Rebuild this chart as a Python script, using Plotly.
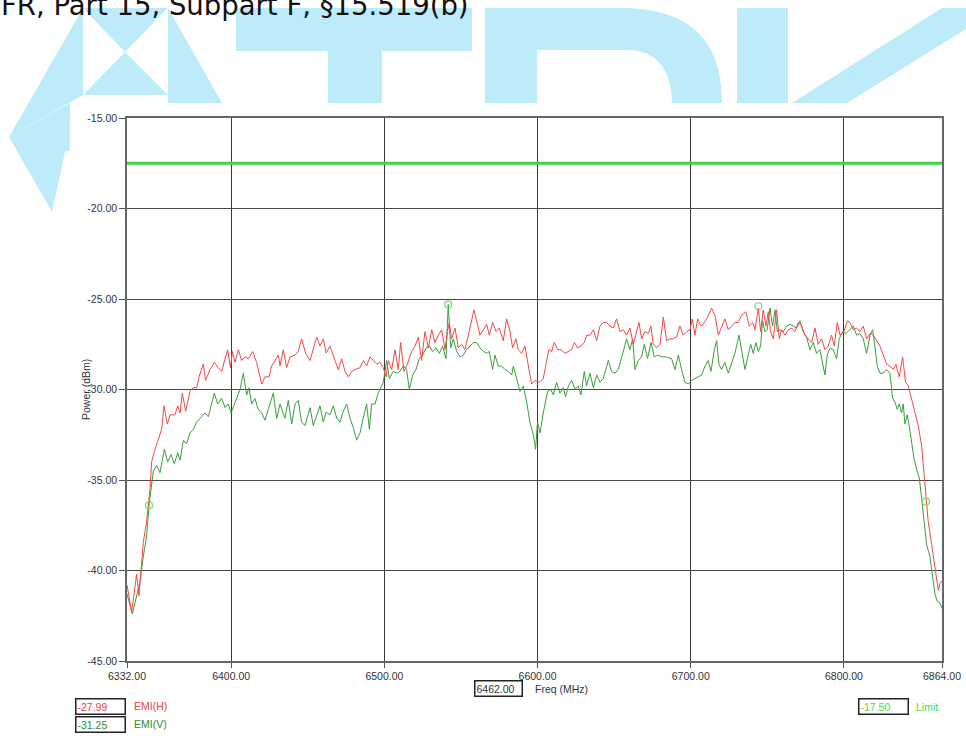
import plotly.graph_objects as go

# ---------------- data ----------------
freq_h = [6332.0, 6335.0, 6338.3, 6339.8, 6342.7, 6344.8, 6347.0, 6348.1, 6350.3, 6352.5, 6354.6, 6356.2, 6358.3, 6360.1,
          6363.3, 6365.1, 6366.6, 6368.1, 6370.3, 6373.1, 6375.3, 6377.5, 6379.0, 6381.8, 6383.3, 6386.2, 6389.0, 6391.6,
          6393.8, 6396.0, 6397.7, 6399.5, 6400.8, 6402.5, 6404.7, 6406.8, 6409.0, 6411.2, 6414.0, 6416.6, 6419.9, 6422.1,
          6424.7, 6426.4, 6428.6, 6430.8, 6431.9, 6434.0, 6436.2, 6438.4, 6441.7, 6443.8, 6446.0, 6448.6, 6451.5, 6453.6,
          6455.8, 6458.0, 6460.2, 6462.0, 6464.5, 6467.8, 6469.9, 6472.1, 6474.3, 6476.5, 6478.6, 6480.8, 6484.1, 6486.3,
          6488.4, 6490.6, 6492.8, 6495.0, 6497.1, 6499.3, 6501.1, 6502.6, 6504.8, 6506.9, 6509.1, 6510.6, 6512.8, 6515.0,
          6517.8, 6520.0, 6522.2, 6524.3, 6526.5, 6528.7, 6530.9, 6533.0, 6535.2, 6537.4, 6539.6, 6541.1, 6542.4, 6543.9,
          6546.1, 6548.3, 6550.4, 6552.6, 6554.8, 6557.0, 6558.5, 6560.2, 6562.4, 6564.6, 6566.8, 6568.5, 6570.7, 6572.9,
          6575.0, 6577.6, 6579.8, 6582.0, 6583.7, 6585.9, 6587.4, 6589.6, 6591.8, 6594.0, 6596.1, 6598.3, 6601.1, 6603.7,
          6605.9, 6607.4, 6609.2, 6610.9, 6613.1, 6615.3, 6617.9, 6620.1, 6622.2, 6624.0, 6626.1, 6628.3, 6630.5, 6632.0,
          6634.2, 6636.4, 6638.6, 6640.7, 6642.9, 6645.1, 6647.3, 6649.4, 6651.6, 6653.8, 6656.0, 6658.1, 6660.3, 6662.5,
          6664.7, 6666.2, 6667.9, 6670.1, 6672.3, 6674.0, 6675.5, 6677.7, 6679.9, 6682.1, 6684.2, 6686.4, 6688.6, 6690.8,
          6692.9, 6695.1, 6697.3, 6699.5, 6701.0, 6702.7, 6704.5, 6706.7, 6708.8, 6711.0, 6713.6, 6715.8, 6718.0, 6720.1,
          6722.3, 6724.5, 6726.7, 6728.8, 6731.0, 6733.2, 6736.0, 6738.2, 6740.4, 6741.9, 6744.1, 6745.6, 6747.3, 6749.1,
          6750.6, 6752.1, 6753.9, 6756.0, 6757.8, 6759.3, 6761.5, 6763.6, 6765.8, 6768.0, 6770.2, 6772.4, 6774.5, 6776.7,
          6778.9, 6781.1, 6783.2, 6785.4, 6787.6, 6789.8, 6791.9, 6793.7, 6795.6, 6797.4, 6800.0, 6802.2, 6803.9, 6806.1,
          6808.3, 6810.4, 6812.6, 6814.8, 6817.0, 6819.1, 6821.3, 6823.5, 6825.7, 6827.8, 6830.0, 6832.2, 6833.9, 6836.1,
          6838.3, 6840.2, 6842.0, 6844.2, 6846.3, 6848.5, 6850.7, 6852.2, 6853.5, 6855.0, 6856.6, 6858.3, 6860.0, 6861.6,
          6862.7, 6864.0]
emi_h = [-40.8, -42.3, -40.2, -41.4, -38.4, -37.3, -35.5, -34.0, -33.3, -32.7, -32.2, -30.9, -31.9, -31.4,
         -31.4, -30.9, -31.3, -30.2, -31.2, -30.1, -29.9, -29.9, -29.3, -28.6, -29.5, -28.9, -28.5, -28.8,
         -29.0, -28.3, -27.8, -28.8, -27.9, -28.5, -27.8, -28.4, -28.2, -28.3, -27.9, -28.5, -29.7, -29.3,
         -29.3, -28.7, -28.4, -28.1, -28.7, -27.8, -28.8, -28.2, -28.1, -27.9, -27.2, -28.0, -28.4, -27.8,
         -27.1, -27.6, -27.2, -27.99, -27.6, -28.4, -28.9, -28.3, -29.0, -29.3, -29.0, -28.9, -28.8, -28.4,
         -28.7, -28.2, -28.4, -28.6, -28.5, -28.8, -29.3, -28.4, -28.9, -27.8, -28.9, -27.4, -29.0, -28.6,
         -27.9, -27.6, -27.1, -28.4, -26.8, -27.7, -26.7, -27.4, -27.0, -26.7, -27.8, -26.8, -26.3, -27.2,
         -26.6, -27.7, -27.5, -27.8, -27.0, -26.2, -25.6, -26.2, -27.0, -26.7, -26.4, -27.0, -26.3, -26.8,
         -26.6, -27.3, -26.1, -26.8, -27.7, -27.2, -27.8, -28.0, -27.6, -28.7, -29.7, -29.5, -29.6, -29.4,
         -28.4, -27.8, -27.9, -27.4, -27.8, -27.8, -28.0, -27.9, -27.8, -27.4, -27.7, -27.6, -27.4, -27.0,
         -27.0, -26.7, -27.3, -26.5, -26.3, -26.3, -26.5, -26.6, -26.1, -26.8, -26.7, -27.0, -26.6, -27.5,
         -26.7, -26.3, -27.2, -26.8, -26.9, -26.5, -27.5, -27.7, -27.5, -26.0, -27.3, -27.2, -27.2, -27.1,
         -26.5, -27.0, -26.8, -26.7, -26.1, -27.0, -26.1, -26.5, -26.3, -26.0, -25.5, -25.9, -27.0, -26.5,
         -26.1, -26.7, -26.5, -26.3, -26.3, -25.9, -25.7, -26.5, -26.3, -26.7, -25.5, -26.8, -25.6, -26.5,
         -25.7, -26.8, -27.2, -25.6, -27.2, -26.7, -27.0, -26.7, -26.6, -26.8, -26.3, -26.5, -27.0, -27.2,
         -27.4, -26.6, -27.5, -27.2, -27.8, -27.6, -27.0, -27.6, -26.3, -27.0, -26.8, -26.2, -26.3, -26.7,
         -26.6, -26.8, -26.5, -27.2, -26.9, -27.0, -27.3, -27.6, -28.1, -28.6, -28.7, -28.9, -28.6, -29.3,
         -28.2, -29.6, -29.8, -30.5, -31.3, -32.0, -33.1, -34.7, -36.2, -37.3, -38.2, -39.2, -40.1, -41.1,
         -40.7, -40.6]

freq_v = [6332.0, 6335.5, 6338.3, 6340.5, 6342.7, 6344.8, 6346.4, 6348.1, 6349.2, 6351.4, 6353.5, 6356.4, 6358.5, 6360.7,
          6362.9, 6365.1, 6366.6, 6368.8, 6370.9, 6373.1, 6375.3, 6377.5, 6379.7, 6382.9, 6385.1, 6386.8, 6389.0, 6391.2,
          6393.8, 6396.0, 6398.1, 6399.9, 6402.5, 6405.8, 6407.9, 6410.1, 6411.6, 6413.4, 6415.5, 6417.7, 6419.9, 6422.1,
          6424.2, 6427.5, 6429.7, 6431.9, 6435.1, 6437.3, 6439.5, 6441.7, 6443.8, 6446.0, 6448.2, 6451.5, 6453.6, 6455.8,
          6458.0, 6460.1, 6462.0, 6464.5, 6466.7, 6468.9, 6471.0, 6473.2, 6475.4, 6477.6, 6479.7, 6481.9, 6484.1, 6486.2,
          6488.4, 6490.2, 6491.7, 6493.9, 6496.0, 6499.3, 6501.5, 6503.2, 6505.8, 6508.0, 6510.2, 6512.4, 6514.5, 6516.3,
          6518.5, 6520.6, 6522.8, 6525.0, 6527.2, 6529.3, 6531.5, 6533.7, 6535.9, 6538.0, 6540.2, 6541.7, 6543.3, 6545.0,
          6547.2, 6549.4, 6551.5, 6553.7, 6555.9, 6558.1, 6560.2, 6562.4, 6564.6, 6566.8, 6568.5, 6570.7, 6572.2, 6574.4,
          6576.6, 6578.7, 6580.9, 6583.1, 6584.2, 6586.3, 6588.5, 6590.7, 6592.9, 6595.0, 6597.2, 6598.7, 6600.0, 6601.6,
          6603.7, 6606.6, 6608.7, 6610.3, 6612.4, 6614.6, 6616.8, 6618.3, 6620.1, 6622.2, 6624.4, 6626.6, 6628.3, 6630.5,
          6632.0, 6634.2, 6636.4, 6638.6, 6640.7, 6642.9, 6644.4, 6646.2, 6648.3, 6650.5, 6652.7, 6654.9, 6656.6, 6658.1,
          6660.3, 6662.1, 6663.6, 6665.8, 6667.9, 6669.7, 6671.8, 6674.0, 6676.2, 6678.4, 6681.0, 6684.2, 6687.5, 6689.7,
          6691.9, 6694.0, 6696.2, 6698.4, 6700.6, 6702.7, 6704.9, 6707.1, 6709.3, 6711.4, 6713.2, 6715.4, 6716.9, 6718.4,
          6720.1, 6722.3, 6724.5, 6726.7, 6728.8, 6731.5, 6733.8, 6735.4, 6737.5, 6739.1, 6740.8, 6742.5, 6744.1, 6745.6,
          6746.9, 6748.4, 6749.9, 6751.7, 6753.4, 6755.0, 6756.5, 6758.2, 6760.4, 6762.6, 6764.7, 6766.9, 6769.1, 6771.3,
          6773.4, 6775.6, 6777.8, 6780.0, 6782.1, 6784.3, 6786.1, 6787.6, 6789.1, 6790.9, 6793.0, 6795.2, 6796.9, 6799.1,
          6801.3, 6803.9, 6806.1, 6808.3, 6810.4, 6812.6, 6814.8, 6817.0, 6818.7, 6820.2, 6821.7, 6823.5, 6825.7, 6827.8,
          6830.0, 6831.8, 6833.3, 6834.8, 6836.1, 6837.6, 6838.7, 6839.8, 6841.3, 6842.6, 6844.2, 6845.7, 6847.4, 6849.2,
          6850.7, 6852.2, 6854.0, 6856.1, 6857.9, 6859.4, 6860.9, 6862.7, 6864.0]
emi_v = [-41.3, -42.4, -41.4, -40.6, -39.2, -38.1, -36.4, -35.3, -34.5, -34.2, -34.6, -33.3, -34.0, -33.6,
         -34.1, -33.5, -33.9, -32.8, -33.0, -32.4, -32.2, -31.8, -31.6, -31.3, -31.5, -30.9, -30.2, -30.8,
         -30.5, -31.0, -30.8, -31.3, -30.7, -30.0, -29.1, -30.3, -29.9, -30.8, -30.5, -31.1, -31.3, -31.7,
         -31.1, -30.2, -31.6, -30.8, -31.6, -30.6, -31.9, -30.8, -30.6, -31.8, -32.0, -31.0, -32.0, -31.4,
         -30.9, -31.8, -31.25, -31.4, -30.9, -31.6, -31.8, -31.2, -30.8, -31.6, -32.1, -32.8, -32.4, -31.6,
         -30.8, -32.2, -30.8, -30.8, -30.2, -29.6, -28.4, -29.4, -29.0, -29.1, -29.0, -28.7, -28.9, -30.0,
         -29.2, -28.9, -28.3, -28.1, -27.7, -27.6, -27.9, -27.7, -28.0, -27.6, -28.3, -25.3, -27.7, -27.2,
         -27.9, -28.2, -28.1, -27.8, -27.6, -27.4, -27.4, -27.7, -27.9, -28.0, -27.9, -28.9, -28.1, -28.7,
         -28.7, -28.9, -29.0, -29.2, -28.7, -29.4, -30.1, -29.8, -30.7, -31.8, -32.5, -33.3, -31.8, -32.4,
         -31.3, -30.1, -30.0, -30.3, -29.6, -30.2, -29.9, -30.4, -29.8, -29.5, -30.0, -29.8, -30.3, -29.0,
         -29.8, -29.1, -29.9, -29.2, -29.6, -29.4, -28.9, -28.4, -29.0, -29.1, -28.9, -28.3, -27.7, -27.2,
         -27.8, -27.2, -28.9, -28.4, -28.2, -27.5, -28.3, -27.4, -28.2, -28.1, -28.2, -28.2, -28.3, -28.9,
         -28.1, -28.9, -29.6, -29.7, -29.5, -29.4, -29.3, -29.2, -28.7, -28.4, -29.0, -27.8, -27.3, -28.6,
         -28.9, -28.5, -29.1, -28.5, -28.0, -27.0, -28.1, -28.9, -28.1, -27.5, -28.0, -27.4, -27.9, -27.6,
         -26.2, -26.8, -26.7, -25.5, -26.5, -25.6, -26.8, -26.7, -26.8, -26.5, -26.4, -26.5, -26.6, -26.2,
         -26.8, -27.1, -27.8, -27.4, -28.0, -27.8, -28.5, -29.2, -28.1, -27.7, -27.8, -28.3, -27.2, -26.8,
         -26.9, -26.7, -26.5, -27.0, -26.9, -27.2, -28.0, -27.0, -26.7, -27.6, -28.7, -29.1, -29.1, -28.9,
         -29.1, -30.5, -30.7, -31.1, -30.8, -31.3, -30.8, -31.9, -31.4, -32.0, -32.9, -33.8, -34.4, -34.9,
         -36.0, -37.3, -38.6, -39.2, -40.3, -41.3, -41.7, -41.8, -42.1]

limit_freq = [6332.0, 6864.0]
limit_vals = [-17.5, -17.5]

marker_freq = [6346.4, 6541.7, 6744.1, 6853.5]
marker_vals = [-36.4, -25.3, -25.4, -36.2]

freq_ticks = [6332, 6400, 6500, 6600, 6700, 6800, 6864]
power_ticks = [-45, -40, -35, -30, -25, -20, -15]

cursor_freq = 6462.00
readout_h = -27.99
readout_v = -31.25
readout_limit = -17.50
title_text = "FR, Part 15, Subpart F, \u00a715.519(b)"

# ---------------- layout helpers (pixel -> paper) ----------------
W, H = 966, 736
L, T, R, B = 127, 118, 942, 661
PW, PH = R - L, B - T


def px(x):
    return (x - L) / PW


def py(y):
    return (B - y) / PH


def poly(points):
    s = "M " + " L ".join(f"{px(x):.5f},{py(y):.5f}" for x, y in points) + " Z"
    return s


WM = "#BDEBFA"
shapes = []
wm_polys = [
    [(83, 8), (168, 8), (125, 52)],
    [(125, 52), (83, 95), (168, 95)],
    [(83, 8), (83, 95), (9, 137)],
    [(9, 137), (70, 103), (70, 150), (65, 152), (52, 212)],
    [(168, 8), (222, 103), (168, 103)],
    [(236, 8), (472, 8), (472, 51), (236, 51)],
    [(328, 51), (382, 51), (382, 103), (328, 103)],
    [(737, 8), (788, 8), (788, 103), (737, 103)],
    [(942, 8), (1000, 8), (847, 103), (792, 103)],
]
for p in wm_polys:
    shapes.append(dict(type="path", xref="paper", yref="paper", path=poly(p),
                       fillcolor=WM, line=dict(width=0), layer="below"))
# the "D"
d_path = (f"M {px(485):.5f},{py(8):.5f} L {px(620):.5f},{py(8):.5f} "
          f"C {px(695):.5f},{py(8):.5f} {px(722):.5f},{py(45):.5f} {px(722):.5f},{py(103):.5f} "
          f"L {px(672):.5f},{py(103):.5f} "
          f"C {px(672):.5f},{py(68):.5f} {px(655):.5f},{py(50):.5f} {px(627):.5f},{py(50):.5f} "
          f"L {px(537):.5f},{py(50):.5f} L {px(537):.5f},{py(103):.5f} L {px(485):.5f},{py(103):.5f} Z")
shapes.append(dict(type="path", xref="paper", yref="paper", path=d_path,
                   fillcolor=WM, line=dict(width=0), layer="below"))
# white chart sheet on top of the watermark
shapes.append(dict(type="rect", xref="paper", yref="paper", x0=px(70), x1=px(970), y0=py(103), y1=py(740),
                   fillcolor="white", line=dict(width=0), layer="below"))

FONT = "Liberation Sans, Arial, sans-serif"

fig = go.Figure()
fig.add_trace(go.Scatter(x=limit_freq, y=limit_vals, mode="lines", name="Limit",
                         line=dict(color="#3ED43E", width=3), hoverinfo="skip"))
fig.add_trace(go.Scatter(x=freq_v, y=emi_v, mode="lines", name="EMI(V)",
                         line=dict(color="#3C9C3C", width=1)))
fig.add_trace(go.Scatter(x=freq_h, y=emi_h, mode="lines", name="EMI(H)",
                         line=dict(color="#F24848", width=1)))
fig.add_trace(go.Scatter(x=marker_freq, y=marker_vals, mode="markers", name="Markers",
                         marker=dict(symbol="circle-open", size=7, color="#77DD66", line=dict(width=1.2))))

annotations = [
    dict(text=title_text, xref="paper", yref="paper", x=px(-1), y=py(23), xanchor="left", yanchor="bottom",
         showarrow=False, font=dict(family="DejaVu Sans", size=27.5, color="#111111")),
    dict(text="Power (dBm)", xref="paper", yref="paper", x=px(78), y=py(390), textangle=-90,
         showarrow=False, font=dict(family=FONT, size=10.5, color="#333333")),
    dict(text=f"{cursor_freq:.2f}", xref="paper", yref="paper", x=px(474), y=py(688.5), xanchor="left",
         yanchor="middle", showarrow=False, width=44, align="left", bordercolor="#222222", borderwidth=1.5,
         borderpad=1, bgcolor="white", font=dict(family=FONT, size=10.5, color="#333333")),
    dict(text="Freq (MHz)", xref="paper", yref="paper", x=px(533), y=py(689), xanchor="left", yanchor="middle",
         showarrow=False, font=dict(family=FONT, size=10.5, color="#333333")),
    dict(text=f"{readout_h:.2f}", xref="paper", yref="paper", x=px(75), y=py(706), xanchor="left",
         yanchor="middle", showarrow=False, width=46, align="left", bordercolor="#222222", borderwidth=1.5,
         borderpad=1, bgcolor="white", font=dict(family=FONT, size=10.5, color="#F04040")),
    dict(text="EMI(H)", xref="paper", yref="paper", x=px(132), y=py(706), xanchor="left", yanchor="middle",
         showarrow=False, font=dict(family=FONT, size=10.5, color="#F04040")),
    dict(text=f"{readout_v:.2f}", xref="paper", yref="paper", x=px(75), y=py(724), xanchor="left",
         yanchor="middle", showarrow=False, width=46, align="left", bordercolor="#222222", borderwidth=1.5,
         borderpad=1, bgcolor="white", font=dict(family=FONT, size=10.5, color="#2E8B2E")),
    dict(text="EMI(V)", xref="paper", yref="paper", x=px(132), y=py(724), xanchor="left", yanchor="middle",
         showarrow=False, font=dict(family=FONT, size=10.5, color="#2E8B2E")),
    dict(text=f"{readout_limit:.2f}", xref="paper", yref="paper", x=px(858), y=py(706.5), xanchor="left",
         yanchor="middle", showarrow=False, width=46, align="left", bordercolor="#222222", borderwidth=1.5,
         borderpad=1, bgcolor="white", font=dict(family=FONT, size=10.5, color="#44DD44")),
    dict(text="Limit", xref="paper", yref="paper", x=px(914), y=py(706.5), xanchor="left", yanchor="middle",
         showarrow=False, font=dict(family=FONT, size=10.5, color="#44DD44")),
]

fig.update_layout(
    width=W, height=H,
    margin=dict(l=L, r=W - R, t=T, b=H - B, pad=0, autoexpand=False),
    paper_bgcolor="white", plot_bgcolor="white",
    showlegend=False,
    shapes=shapes,
    annotations=annotations,
    font=dict(family=FONT, size=10.5, color="#333333"),
    xaxis=dict(range=[6332, 6864], tickmode="array", tickvals=freq_ticks,
               ticktext=[f"{v:.2f}" for v in freq_ticks], automargin=False,
               showgrid=True, gridcolor="#3A3A3A", gridwidth=1,
               showline=True, linecolor="#666666", linewidth=1.5, mirror=True,
               ticks="outside", ticklen=5, tickcolor="#555555", zeroline=False,
               tickfont=dict(family=FONT, size=10.5, color="#333333")),
    yaxis=dict(range=[-45, -15], tickmode="array", tickvals=power_ticks,
               ticktext=[f"{v:.2f}" for v in power_ticks], automargin=False,
               showgrid=True, gridcolor="#4A4A4A", gridwidth=1.4,
               showline=True, linecolor="#666666", linewidth=1.5, mirror=True,
               ticks="outside", ticklen=6, tickcolor="#555555", zeroline=False,
               tickfont=dict(family=FONT, size=10.5, color="#333333")),
)

fig.write_html("out.html", config={"displayModeBar": False},
               post_script="document.body.style.margin='0';document.body.style.padding='0';"
                           "document.body.style.overflow='hidden';")
